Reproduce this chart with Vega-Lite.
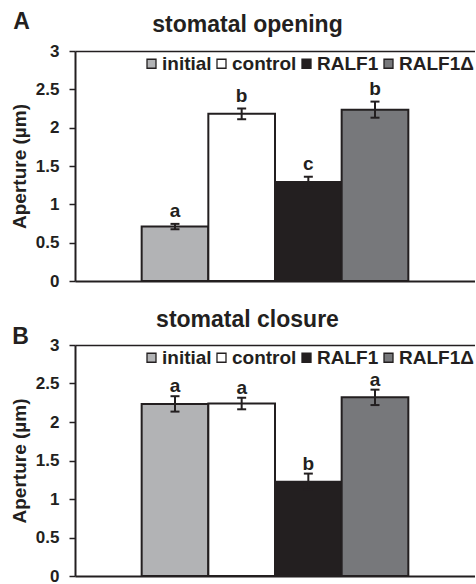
{
  "$schema": "https://vega.github.io/schema/vega-lite/v6.json",
  "background": "white",
  "padding": {"left": 10, "top": 11, "right": 0, "bottom": 0},
  "autosize": {"type": "pad"},
  "config": {
    "font": "Liberation Sans",
    "view": {"stroke": null},
    "axis": {"grid": false, "labelFont": "Liberation Sans", "titleFont": "Liberation Sans", "labelColor": "#231f20", "titleColor": "#231f20", "domainColor": "#231f20", "tickColor": "#231f20"},
    "title": {"font": "Liberation Sans", "fontSize": 23, "fontWeight": "bold", "color": "#231f20", "anchor": "start", "frame": "bounds"},
    "legend": {"orient": "none", "legendX": 67, "legendY": 3, "direction": "horizontal", "columns": 4, "title": null, "labelFont": "Liberation Sans", "labelFontSize": 19, "labelFontWeight": "bold", "labelColor": "#231f20", "symbolType": "square", "symbolSize": 81, "symbolStrokeColor": "#231f20", "symbolStrokeWidth": 1.3, "labelOffset": 1, "columnPadding": 0, "padding": 0, "labelLimit": 200}
  },
  "datasets": {
    "opening": [
      {"treatment": "initial", "mean": 0.71, "lo": 0.675, "hi": 0.745, "group": "a"},
      {"treatment": "control", "mean": 2.18, "lo": 2.11, "hi": 2.25, "group": "b"},
      {"treatment": "RALF1", "mean": 1.29, "lo": 1.22, "hi": 1.36, "group": "c"},
      {"treatment": "RALF1Δ", "mean": 2.235, "lo": 2.13, "hi": 2.34, "group": "b"}
    ],
    "closure": [
      {"treatment": "initial", "mean": 2.235, "lo": 2.135, "hi": 2.335, "group": "a"},
      {"treatment": "control", "mean": 2.24, "lo": 2.165, "hi": 2.315, "group": "a"},
      {"treatment": "RALF1", "mean": 1.225, "lo": 1.125, "hi": 1.33, "group": "b"},
      {"treatment": "RALF1Δ", "mean": 2.32, "lo": 2.22, "hi": 2.42, "group": "a"}
    ]
  },
  "spacing": 19,
  "resolve": {"scale": {"color": "independent"}, "legend": {"color": "independent"}},
  "vconcat": [
    {
      "title": {"text": "A", "dx": 3, "dy": 25},
      "width": 400,
      "height": 230,
      "data": {"name": "opening"},
      "resolve": {"axis": {"x": "independent"}},
      "layer": [
        {
          "mark": {"type": "bar", "stroke": "#231f20", "strokeWidth": 2},
          "encoding": {
            "x": {"field": "treatment", "type": "nominal", "sort": null, "scale": {"domain": ["initial", "control", "RALF1", "RALF1Δ"], "paddingInner": 0, "paddingOuter": 1}, "axis": {"orient": "bottom", "labels": false, "ticks": false, "title": null, "domainWidth": 2}},
            "y": {"field": "mean", "type": "quantitative", "scale": {"domain": [0, 3], "nice": false}, "title": "Aperture (µm)", "axis": {"values": [0, 0.5, 1, 1.5, 2, 2.5, 3], "tickCount": 7, "format": "~g", "labelOverlap": false, "labelFontSize": 17, "labelFontWeight": "bold", "labelPadding": 10, "tickSize": 6, "tickWidth": 1.5, "domainWidth": 2, "titleFontSize": 19, "titleFontWeight": "bold", "titlePadding": 6, "labelFlush": false}},
            "color": {"field": "treatment", "type": "nominal", "scale": {"domain": ["initial", "control", "RALF1", "RALF1Δ"], "range": ["#b2b3b5", "#ffffff", "#231f20", "#77787b"]}}
          }
        },
        {
          "mark": {"type": "rule", "strokeWidth": 2, "color": "#231f20"},
          "encoding": {
            "x": {"field": "treatment", "type": "nominal", "sort": null, "axis": {"orient": "top", "labels": false, "ticks": false, "domainWidth": 1.5, "title": "stomatal opening", "titleFontSize": 23, "titleFontWeight": "bold", "titleBaseline": "alphabetic", "titlePadding": 20, "titleX": 172}},
            "y": {"field": "lo", "type": "quantitative", "axis": {"values": [0, 0.5, 1, 1.5, 2, 2.5, 3], "tickCount": 7, "format": "~g", "labelOverlap": false}},
            "y2": {"field": "hi"}
          }
        },
        {
          "mark": {"type": "tick", "size": 9, "thickness": 2, "color": "#231f20", "opacity": 1},
          "encoding": {
            "x": {"field": "treatment", "type": "nominal", "sort": null, "axis": null},
            "y": {"field": "lo", "type": "quantitative", "axis": {"values": [0, 0.5, 1, 1.5, 2, 2.5, 3], "tickCount": 7, "format": "~g", "labelOverlap": false}}
          }
        },
        {
          "mark": {"type": "tick", "size": 9, "thickness": 2, "color": "#231f20", "opacity": 1},
          "encoding": {
            "x": {"field": "treatment", "type": "nominal", "sort": null, "axis": null},
            "y": {"field": "hi", "type": "quantitative", "axis": {"values": [0, 0.5, 1, 1.5, 2, 2.5, 3], "tickCount": 7, "format": "~g", "labelOverlap": false}}
          }
        },
        {
          "mark": {"type": "text", "dy": -7, "baseline": "alphabetic", "fontSize": 19, "fontWeight": "bold", "color": "#231f20"},
          "encoding": {
            "x": {"field": "treatment", "type": "nominal", "sort": null, "axis": null},
            "y": {"field": "hi", "type": "quantitative", "axis": {"values": [0, 0.5, 1, 1.5, 2, 2.5, 3], "tickCount": 7, "format": "~g", "labelOverlap": false}},
            "text": {"field": "group"}
          }
        }
      ]
    },
    {
      "title": {"text": "B", "dx": 2, "dy": 45},
      "width": 400,
      "height": 231,
      "data": {"name": "closure"},
      "resolve": {"axis": {"x": "independent"}},
      "layer": [
        {
          "mark": {"type": "bar", "stroke": "#231f20", "strokeWidth": 2},
          "encoding": {
            "x": {"field": "treatment", "type": "nominal", "sort": null, "scale": {"domain": ["initial", "control", "RALF1", "RALF1Δ"], "paddingInner": 0, "paddingOuter": 1}, "axis": {"orient": "bottom", "labels": false, "ticks": false, "title": null, "domainWidth": 2}},
            "y": {"field": "mean", "type": "quantitative", "scale": {"domain": [0, 3], "nice": false}, "title": "Aperture (µm)", "axis": {"values": [0, 0.5, 1, 1.5, 2, 2.5, 3], "tickCount": 7, "format": "~g", "labelOverlap": false, "labelFontSize": 17, "labelFontWeight": "bold", "labelPadding": 10, "tickSize": 6, "tickWidth": 1.5, "domainWidth": 2, "titleFontSize": 19, "titleFontWeight": "bold", "titlePadding": 6, "labelFlush": false}},
            "color": {"field": "treatment", "type": "nominal", "scale": {"domain": ["initial", "control", "RALF1", "RALF1Δ"], "range": ["#b2b3b5", "#ffffff", "#231f20", "#77787b"]}}
          }
        },
        {
          "mark": {"type": "rule", "strokeWidth": 2, "color": "#231f20"},
          "encoding": {
            "x": {"field": "treatment", "type": "nominal", "sort": null, "axis": {"orient": "top", "labels": false, "ticks": false, "domainWidth": 1.5, "title": "stomatal closure", "titleFontSize": 23, "titleFontWeight": "bold", "titleBaseline": "alphabetic", "titlePadding": 19, "titleX": 172}},
            "y": {"field": "lo", "type": "quantitative", "axis": {"values": [0, 0.5, 1, 1.5, 2, 2.5, 3], "tickCount": 7, "format": "~g", "labelOverlap": false}},
            "y2": {"field": "hi"}
          }
        },
        {
          "mark": {"type": "tick", "size": 9, "thickness": 2, "color": "#231f20", "opacity": 1},
          "encoding": {
            "x": {"field": "treatment", "type": "nominal", "sort": null, "axis": null},
            "y": {"field": "lo", "type": "quantitative", "axis": {"values": [0, 0.5, 1, 1.5, 2, 2.5, 3], "tickCount": 7, "format": "~g", "labelOverlap": false}}
          }
        },
        {
          "mark": {"type": "tick", "size": 9, "thickness": 2, "color": "#231f20", "opacity": 1},
          "encoding": {
            "x": {"field": "treatment", "type": "nominal", "sort": null, "axis": null},
            "y": {"field": "hi", "type": "quantitative", "axis": {"values": [0, 0.5, 1, 1.5, 2, 2.5, 3], "tickCount": 7, "format": "~g", "labelOverlap": false}}
          }
        },
        {
          "mark": {"type": "text", "dy": -4, "baseline": "alphabetic", "fontSize": 19, "fontWeight": "bold", "color": "#231f20"},
          "encoding": {
            "x": {"field": "treatment", "type": "nominal", "sort": null, "axis": null},
            "y": {"field": "hi", "type": "quantitative", "axis": {"values": [0, 0.5, 1, 1.5, 2, 2.5, 3], "tickCount": 7, "format": "~g", "labelOverlap": false}},
            "text": {"field": "group"}
          }
        }
      ]
    }
  ]
}
